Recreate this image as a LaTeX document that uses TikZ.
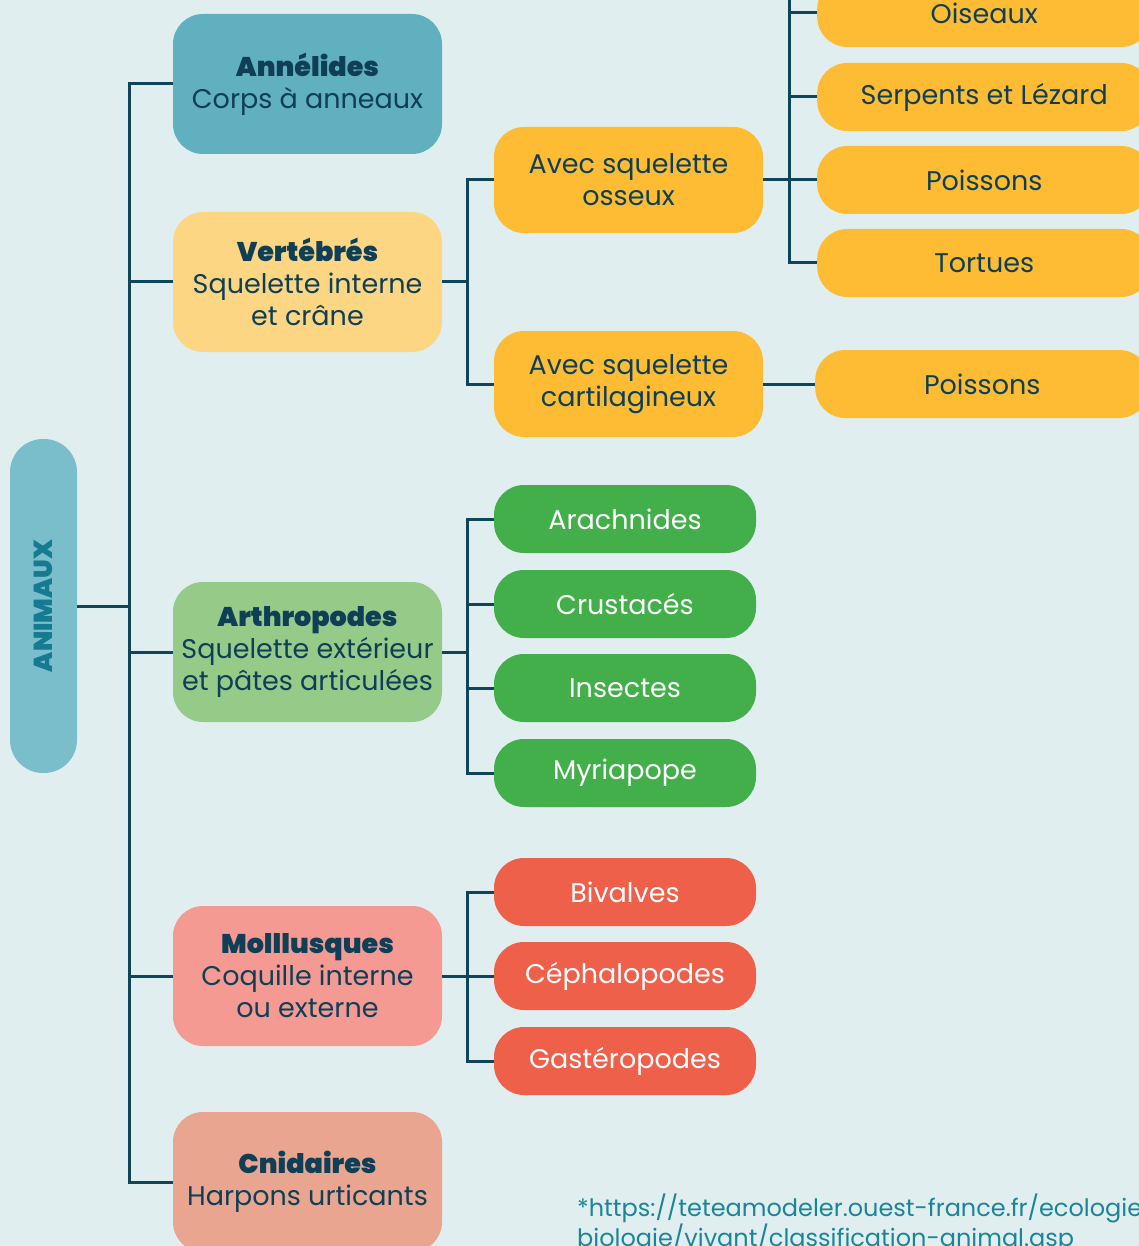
\documentclass[tikz,border=0pt]{standalone}
\usepackage{fontspec}
\setmainfont{Poppins}[BoldFont={Poppins Black}]
\usetikzlibrary{positioning}

\definecolor{bgcol}{HTML}{E1EEF0}
\definecolor{linecol}{HTML}{0F4559}
\definecolor{textcol}{HTML}{0E3F56}
\definecolor{annelcol}{HTML}{60B0BF}
\definecolor{vertcol}{HTML}{FCD683}
\definecolor{arthrocol}{HTML}{95CA89}
\definecolor{mollcol}{HTML}{F49A93}
\definecolor{cnidcol}{HTML}{E9A58F}
\definecolor{animcol}{HTML}{7BBECB}
\definecolor{animtext}{HTML}{167A90}
\definecolor{yellowcol}{HTML}{FDBC33}
\definecolor{greencol}{HTML}{42AF4A}
\definecolor{redcol}{HTML}{EF604B}
\definecolor{urlcol}{HTML}{1B8598}

\begin{document}
\begin{tikzpicture}[x=1pt,y=-1pt,
    GroupBlock/.style={rectangle, rounded corners=30pt, minimum width=269pt,
      minimum height=140pt, align=center, text=textcol,
      font=\fontsize{27}{32}\selectfont},
    SubBlock/.style={rectangle, rounded corners=30pt, minimum height=68pt,
      align=center, font=\fontsize{27}{32}\selectfont},
    link/.style={draw=linecol, line width=3pt}
  ]

  \fill[bgcol] (0,0) rectangle (1139,1246);
  \useasboundingbox (0,0) rectangle (1139,1246);

  % root
  \node (anim) [rectangle, rounded corners=33pt, fill=animcol, rotate=90,
    minimum width=334pt, minimum height=67pt, text=animtext,
    font=\fontsize{26}{30}\selectfont\bfseries] at (43.5,606) {ANIMAUX};

  % groups
  \node (annel) [GroupBlock, fill=annelcol] at (307.5,84)
    {\textbf{Annélides}\\Corps à anneaux};
  \node (vert) [GroupBlock, fill=vertcol] at (307.5,282)
    {\textbf{Vertébrés}\\Squelette interne\\et crâne};
  \node (arthro) [GroupBlock, fill=arthrocol] at (307.5,652)
    {\textbf{Arthropodes}\\Squelette extérieur\\et pâtes articulées};
  \node (moll) [GroupBlock, fill=mollcol] at (307.5,976)
    {\textbf{Molllusques}\\Coquille interne\\ou externe};
  \node (cnid) [GroupBlock, fill=cnidcol] at (307.5,1182)
    {\textbf{Cnidaires}\\Harpons urticants};

  % vertebres
  \node (osseux) [SubBlock, fill=yellowcol, text=textcol, minimum width=269pt,
    minimum height=106pt] at (628.5,180) {Avec squelette\\osseux};
  \node (cartil) [SubBlock, fill=yellowcol, text=textcol, minimum width=269pt,
    minimum height=106pt] at (628.5,384) {Avec squelette\\cartilagineux};

  \node (oiseaux) [SubBlock, fill=yellowcol, text=textcol, minimum width=334pt,
    anchor=west] at (817,13) {Oiseaux};
  \node (serpents) [SubBlock, fill=yellowcol, text=textcol, minimum width=334pt,
    anchor=west] at (817,97) {Serpents et Lézard};
  \node (poissonsA) [SubBlock, fill=yellowcol, text=textcol, minimum width=334pt,
    anchor=west] at (817,180) {Poissons};
  \node (tortues) [SubBlock, fill=yellowcol, text=textcol, minimum width=334pt,
    anchor=west] at (817,263) {Tortues};
  \node (poissonsB) [SubBlock, fill=yellowcol, text=textcol, minimum width=334pt,
    anchor=west] at (815,384) {Poissons};

  % arthropodes
  \node (arach) [SubBlock, fill=greencol, text=white, minimum width=262pt]
    at (625,519) {Arachnides};
  \node (crust) [SubBlock, fill=greencol, text=white, minimum width=262pt]
    at (625,604) {Crustacés};
  \node (insect) [SubBlock, fill=greencol, text=white, minimum width=262pt]
    at (625,688) {Insectes};
  \node (myria) [SubBlock, fill=greencol, text=white, minimum width=262pt]
    at (625,773) {Myriapope};

  % mollusques
  \node (bival) [SubBlock, fill=redcol, text=white, minimum width=262pt]
    at (625,892) {Bivalves};
  \node (cepha) [SubBlock, fill=redcol, text=white, minimum width=262pt]
    at (625,976) {Céphalopodes};
  \node (gaste) [SubBlock, fill=redcol, text=white, minimum width=262pt]
    at (625,1061) {Gastéropodes};

  % source
  \node (source) [anchor=north west, align=left, text=urlcol, inner sep=0pt,
    font=\fontsize{24}{27}\selectfont] at (577,1194)
    {*https://teteamodeler.ouest-france.fr/ecologie-\\biologie/vivant/classification-animal.asp};

  % connectors
  \coordinate (trunk) at (129,606);
  \draw [link] (anim.south) -- (trunk);
  \draw [link] (annel.west) -- (annel.west -| trunk) -- (cnid.west -| trunk) -- (cnid.west);
  \foreach \n in {vert,arthro,moll}
    \draw [link] (\n.west) -- (\n.west -| trunk);

  \coordinate (vbus) at (467,0);
  \draw [link] (vert.east) -- (vert.east -| vbus);
  \draw [link] (osseux.west) -- (osseux.west -| vbus) -- (cartil.west -| vbus) -- (cartil.west);

  \coordinate (obus) at (789,0);
  \draw [link] (osseux.east) -- (osseux.east -| obus);
  \draw [link] (obus) -- (tortues.west -| obus) -- (tortues.west);
  \foreach \n in {oiseaux,serpents,poissonsA}
    \draw [link] (\n.west) -- (\n.west -| obus);
  \draw [link] (cartil.east) -- (poissonsB.west);

  \draw [link] (arthro.east) -- (arthro.east -| vbus);
  \draw [link] (arach.west) -- (arach.west -| vbus) -- (myria.west -| vbus) -- (myria.west);
  \foreach \n in {crust,insect}
    \draw [link] (\n.west) -- (\n.west -| vbus);

  \draw [link] (moll.east) -- (moll.east -| vbus);
  \draw [link] (bival.west) -- (bival.west -| vbus) -- (gaste.west -| vbus) -- (gaste.west);
  \draw [link] (cepha.west) -- (cepha.west -| vbus);

\end{tikzpicture}
\end{document}
